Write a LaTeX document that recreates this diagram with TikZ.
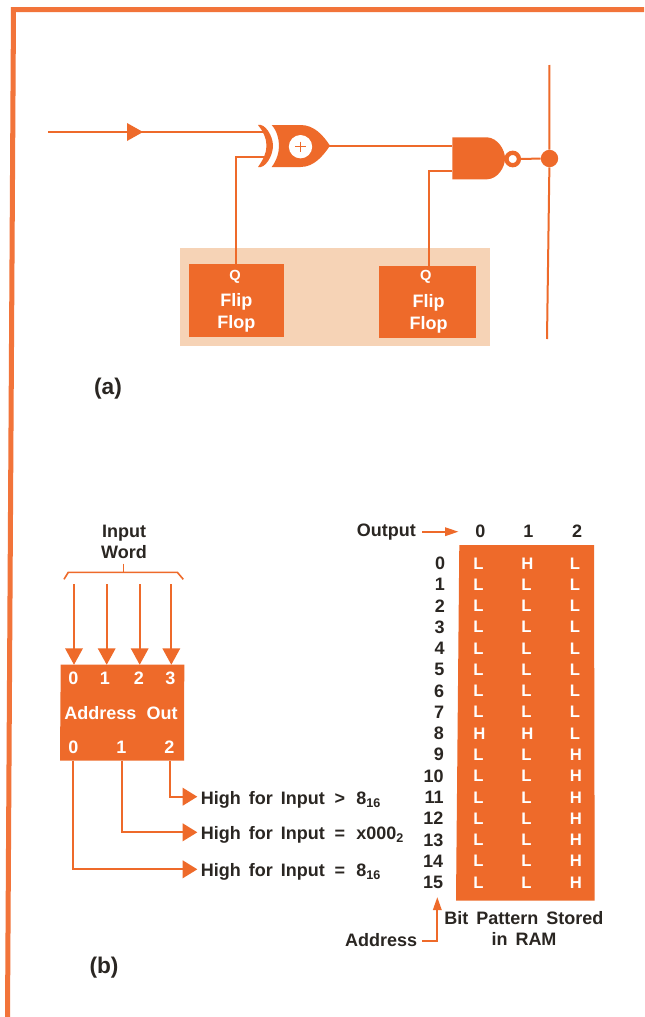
\documentclass[tikz,border=0pt]{standalone}
\usepackage{fontspec}
\setmainfont{Liberation Sans}
\definecolor{hporange}{HTML}{EE6A2A}
\definecolor{frameorange}{HTML}{F2743A}
\definecolor{peach}{HTML}{F6D3B6}
\definecolor{ink}{HTML}{2A2622}
\newcommand{\bigf}{\fontsize{13.5}{14}\selectfont\bfseries\spaceskip=6pt\relax}
\tikzset{
  wire/.style={draw=hporange,line width=1.5pt},
  fine wire/.style={draw=hporange,line width=1.2pt},
  ffbox/.style={fill=hporange,draw=none,inner sep=0pt},
  wtext/.style={text=white,font=\bigf,inner sep=0pt},
  smalltext/.style={text=white,font=\fontsize{11}{11}\selectfont\bfseries,inner sep=0pt},
  btext/.style={text=ink,font=\bigf,inner sep=0pt},
  bit/.style={text=white,font=\fontsize{12.5}{12.5}\selectfont\bfseries,inner sep=0pt,anchor=west},
  panel/.style={text=ink,font=\fontsize{17}{17}\selectfont\bfseries,inner sep=0pt},
}
\begin{document}
\begin{tikzpicture}[x=0.75pt,y=-0.75pt]
\useasboundingbox (0,0) rectangle (644,1017);
\fill[white] (0,0) rectangle (644,1017);
% frame
\fill[frameorange] (644,7) -- (11,7) -- (5,1017) -- (10,1017) -- (16,12) -- (644,12) -- cycle;
% ---------- (a)
\fill[peach] (179.5,248) rectangle (490,346);
\node[ffbox,minimum width=71.6pt,minimum height=54.8pt] (ffA) at (236.7,300.5) {};
\node[ffbox,minimum width=72.8pt,minimum height=54.4pt] (ffB) at (427.5,301.8) {};
\node[smalltext] (qA) at (235,276.5) {Q};
\node[wtext] (flipA) at (236.4,302) {Flip};
\node[wtext] (flopA) at (236.4,323.7) {Flop};
\node[smalltext] (qB) at (425.7,276.5) {Q};
\node[wtext] (flipB) at (428.6,302.7) {Flip};
\node[wtext] (flopB) at (428.6,324.7) {Flop};
% pins
\coordinate (in) at (47.8,132);
\coordinate (xorA) at (264,132);
\coordinate (xorB) at (264,157.3);
\coordinate (xorOut) at (329,145.7);
\coordinate (nandA) at (452.3,145.7);
\coordinate (nandB) at (452.3,171);
\coordinate (busTop) at (549.3,65);
\coordinate (busBot) at (547,339);
% wires
\draw[wire] (in) -- (xorA);
\draw[wire] (xorOut) -- (nandA);
\draw[wire] (xorB) -| (236,264);
\draw[wire] (nandB) -| (428.5,265.5);
\fill[hporange] (127,123) -- (143,132) -- (127,141) -- cycle;
% XOR
\fill[hporange] (258,125) .. controls (265,123) and (273,136) .. (273,145.7) .. controls (273,156) and (265,169) .. (258,167) .. controls (263,160) and (266.5,153) .. (266.5,145.7) .. controls (266.5,138) and (263,131) .. (258,125) -- cycle;
\fill[hporange] (271.7,125) -- (300.5,125) .. controls (314,125) and (323,135) .. (330,145.7) .. controls (323,156) and (314,167) .. (300.5,167) -- (271.7,167) .. controls (277,160) and (279,152) .. (279,145.7) .. controls (279,139) and (277,131) .. (271.7,125) -- cycle;
\node[circle,fill=white,minimum size=17.5pt,inner sep=0pt] (xorc) at (300.5,146.7) {};
\draw[hporange,line width=0.9pt] (295.3,146.7) -- (305.7,146.7) (300.5,141.5) -- (300.5,151.9);
% NAND
\fill[hporange] (452.3,137.3) -- (487,137.3) .. controls (498,138) and (505,150) .. (505,158.3) .. controls (505,167) and (498,179) .. (487,179.3) -- (452.3,179.3) -- cycle;
\node[circle,draw=hporange,fill=white,line width=3.2pt,minimum size=9.3pt,inner sep=0pt] (bub) at (512.7,159) {};
\node[circle,fill=hporange,minimum size=13pt,inner sep=0pt] (dot) at (549.5,158.5) {};
\draw[wire] (bub) -- (dot);
\draw[wire] (busTop) -- (dot);
\draw[wire] (dot) -- (busBot);
\node[panel] (labA) at (108,388.5) {(a)};
% ---------- (b) left block
\fill[hporange] (60.7,664.7) -- (184.3,664.7) -- (184,760.7) -- (60,760.7) -- cycle;
\node[btext] (inw) at (124,533) {Input};
\node[btext] (word) at (124,551.7) {Word};
\draw[fine wire] (64,579.3) -- (68.3,572.3) -- (177.3,572.3) -- (183.3,579.3);
\draw[fine wire] (123.3,563.5) -- (123.3,572.3);
\foreach \x/\n/\t in {74/0/73.3,106.7/1/105,139.7/2/139,171.3/3/170.3}{
  \node[wtext] (ai\n) at (\t,678.3) {\n};
  \coordinate (as\n) at (\x,584);
  \coordinate (ae\n) at (\x,650);
  \draw[wire] (as\n) -- (ae\n);
  \fill[hporange] (\x-9,648.3) -- (\x+9,648.3) -- (\x,664.7) -- cycle;
}
\node[wtext] (addr) at (100.3,713.3) {Address};
\node[wtext] (out) at (162,713.3) {Out};
\node[wtext] (ao0) at (73.3,747.3) {0};
\node[wtext] (ao1) at (121.3,747.3) {1};
\node[wtext] (ao2) at (169.3,747.3) {2};
\node[btext,anchor=west] (hi2) at (200.7,800.3) {\makebox[100.2pt][l]{High for Input}\makebox[16.3pt][l]{>}8\textsubscript{16}};
\node[btext,anchor=west] (hi1) at (200.7,834.7) {\makebox[100.2pt][l]{High for Input}\makebox[16.3pt][l]{=}x000\textsubscript{2}};
\node[btext,anchor=west] (hi0) at (200.7,872) {\makebox[100.2pt][l]{High for Input}\makebox[16.3pt][l]{=}8\textsubscript{16}};
\coordinate (t2) at (183,796.7);
\coordinate (t1) at (183,832.3);
\coordinate (t0) at (183,869.3);
\draw[wire] (170,760.7) |- (t2);
\draw[wire] (122.3,760.7) |- (t1);
\draw[wire] (73.3,760.7) |- (t0);
\foreach \y in {796.7,832.3,869.3}{\fill[hporange] (182.7,\y-9) -- (197.3,\y) -- (182.7,\y+9) -- cycle;}
% ---------- (b) RAM
\fill[hporange] (459.3,545) -- (594,545) -- (594.7,900.7) -- (456,900.7) -- cycle;
\node[btext,anchor=east] (outp) at (416,532) {Output};
\coordinate (outArr) at (448,531.7);
\draw[wire] (422.3,531.7) -- (outArr);
\fill[hporange] (445,527.2) -- (458.3,531.7) -- (445,536.2) -- cycle;
\node[btext] (h0) at (480.3,531.7) {0};
\node[btext] (h1) at (528.3,531.7) {1};
\node[btext] (h2) at (577,531.7) {2};
\foreach \r/\a/\b/\c in {0/L/H/L,1/L/L/L,2/L/L/L,3/L/L/L,4/L/L/L,5/L/L/L,6/L/L/L,7/L/L/L,8/H/H/L,9/L/L/H,10/L/L/H,11/L/L/H,12/L/L/H,13/L/L/H,14/L/L/H,15/L/L/H}{
  \pgfmathsetmacro{\yy}{563.3+\r*21.27}
  \pgfmathsetmacro{\xx}{445.3-\r*0.13}
  \node[btext,anchor=east] (r\r) at (\xx,\yy) {\r};
  \node[bit] (ba\r) at (473,\yy) {\a};
  \node[bit] (bb\r) at (521,\yy) {\b};
  \node[bit] (bc\r) at (569.5,\yy) {\c};
}
\node[btext] (bp) at (524,918.3) {Bit Pattern Stored};
\node[btext] (ram) at (524,939.3) {in RAM};
\node[btext,anchor=east] (adr) at (417.3,940) {Address};
\coordinate (adrTip) at (437.3,908);
\draw[wire] (422.3,940.7) -| (adrTip);
\fill[hporange] (432.8,910) -- (437.3,897.3) -- (441.8,910) -- cycle;
\node[panel] (labB) at (104,967.5) {(b)};
\end{tikzpicture}
\end{document}
